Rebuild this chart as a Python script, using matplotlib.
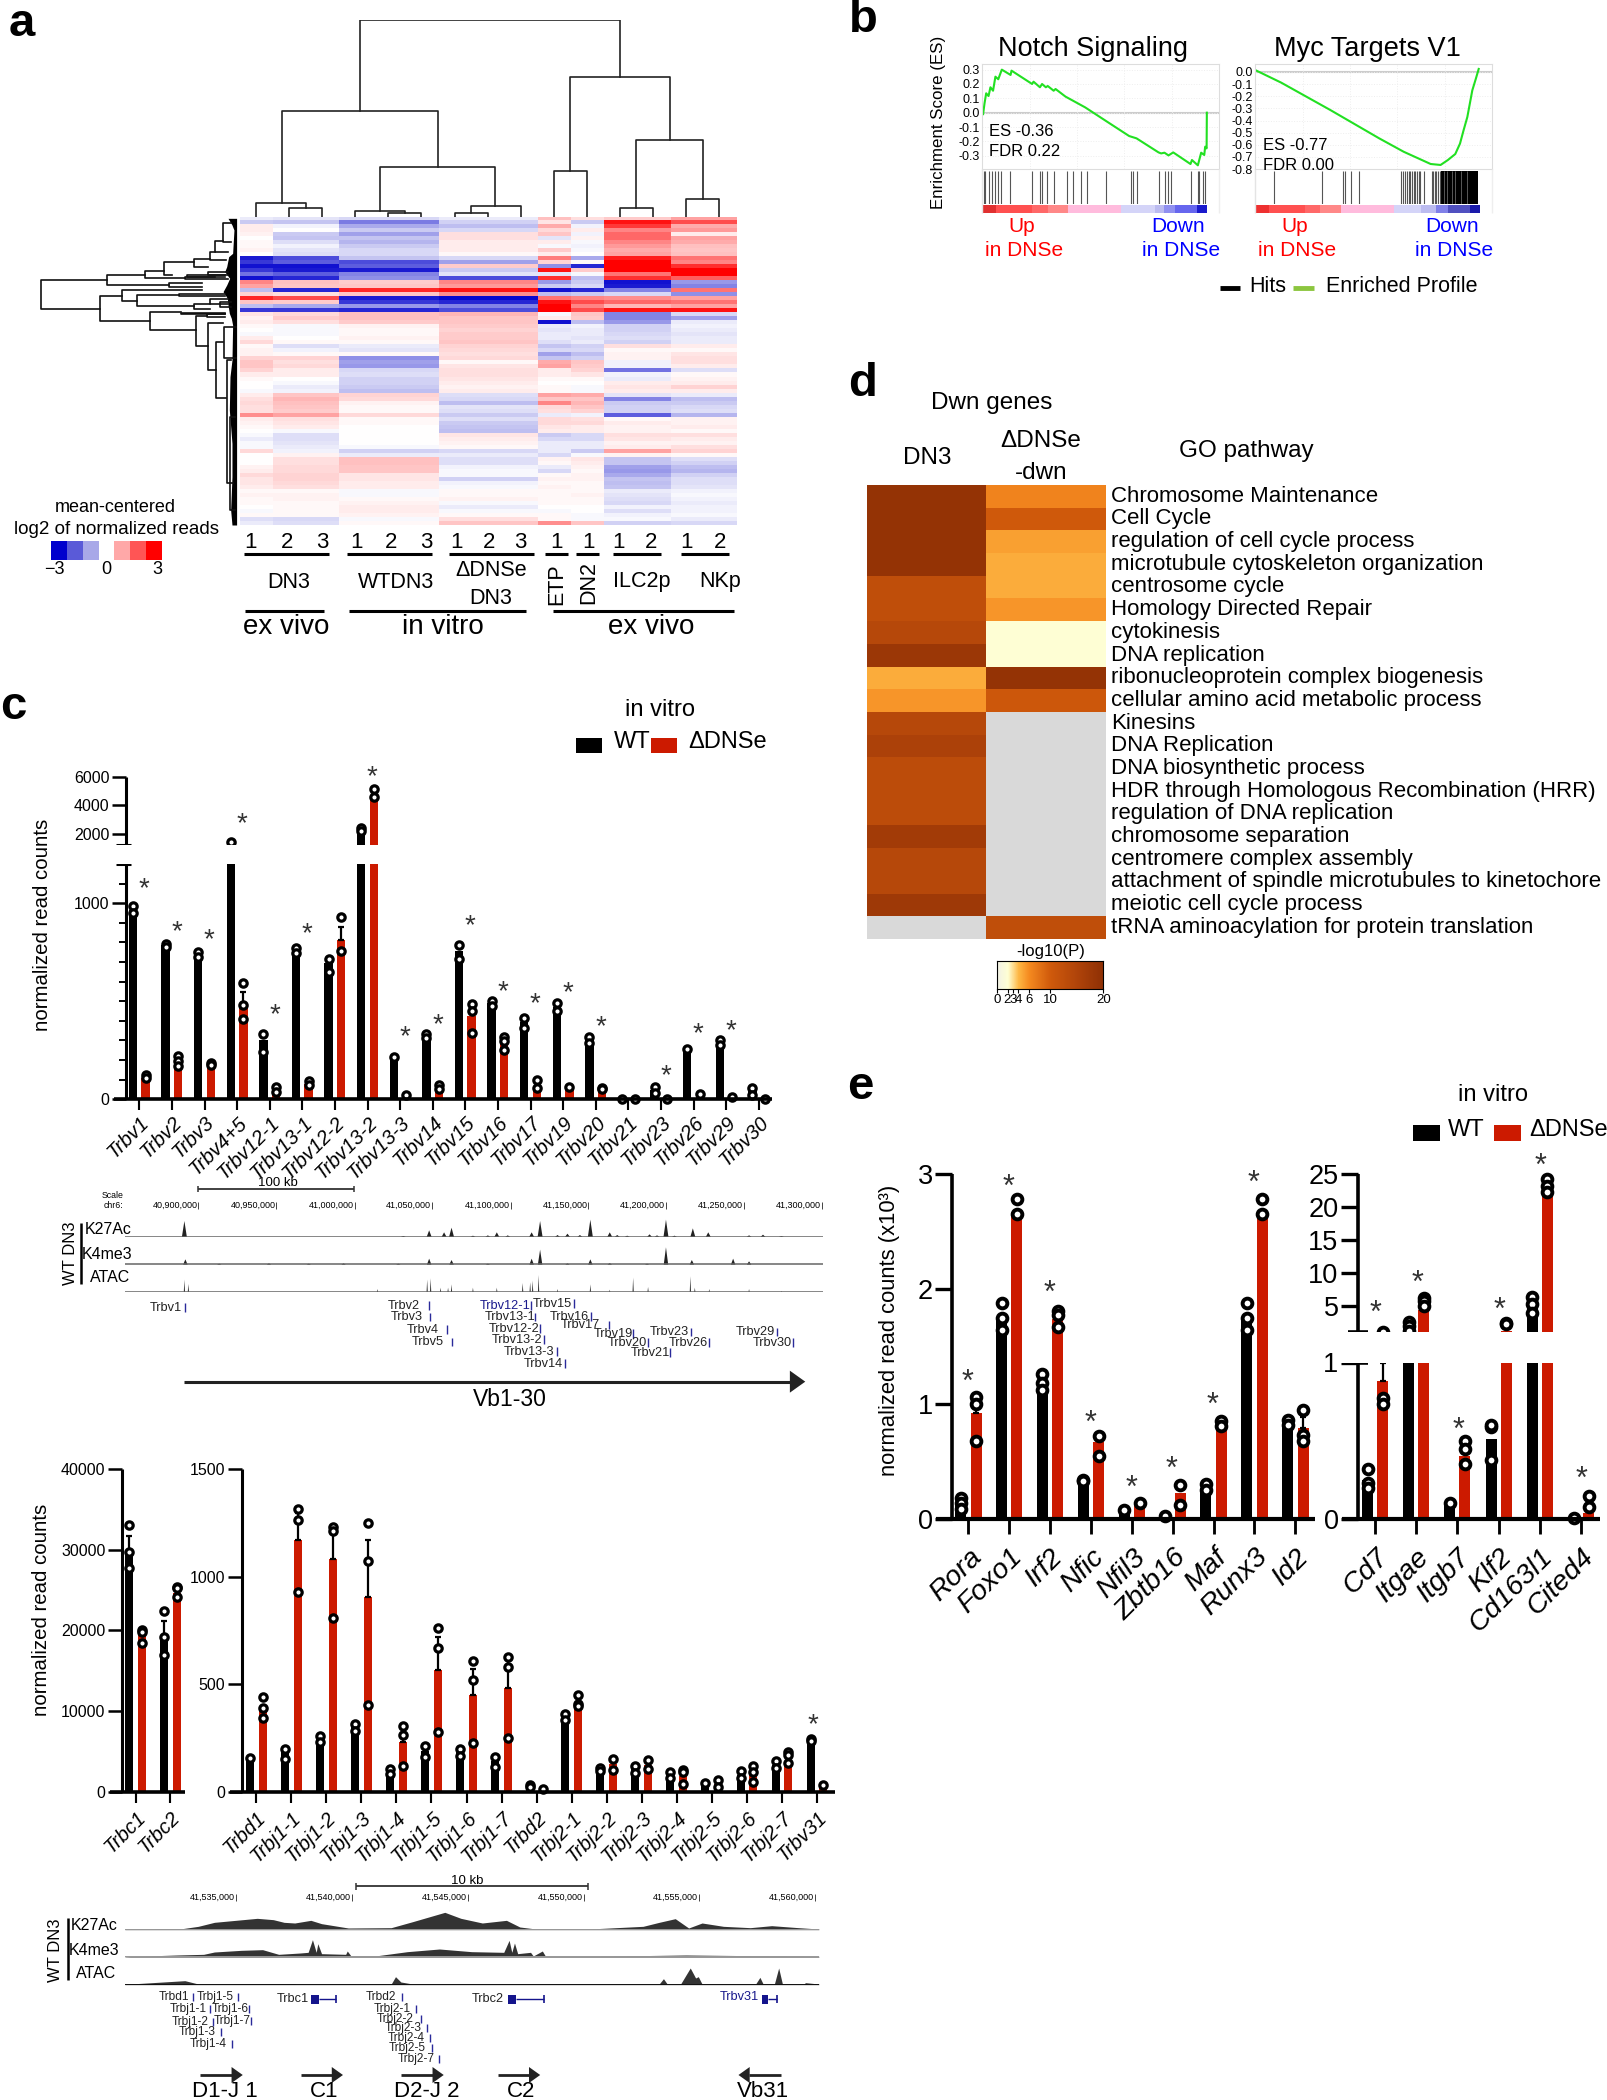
import matplotlib
matplotlib.use("Agg")
import matplotlib.pyplot as plt
import numpy as np
from matplotlib.colors import LinearSegmentedColormap, ListedColormap
from matplotlib.patches import Rectangle
from matplotlib.ticker import FixedLocator, NullFormatter
from matplotlib.transforms import ScaledTranslation

plt.rcParams["font.family"] = ["Liberation Sans", "DejaVu Sans"]

W, H = 1607, 2100
BLACK = "#000000"
RED = "#CC1A00"

# panel a
heat_groups = ["DN3", "WTDN3", "dDNSe", "ETP", "DN2", "ILC2p", "NKp"]
heat_repeat = [1, 2, 3, 3, 1, 1, 2, 2]
heat_rows = [
    [-.3, -.4, -.6, -.3, 1.0, .5, .8, 1.3], [-.8, -.9, -1.7, -.7, .4, -.8, 2.8, 2.2],
    [.3, -.2, -1.2, -1.0, 1.2, -.2, 2.4, 1.2], [.3, 0, -.8, -.6, .6, .3, 1.6, 1.4],
    [.2, -.8, -1.3, .5, .9, -.2, 1.9, .3], [0, -.9, -.9, .5, -.4, .2, 1.9, 1.3],
    [.1, -.5, -1.1, .3, .3, -.1, 1.6, 1.2], [.1, -.2, -.8, .3, -.1, -.2, 1.4, 1.0],
    [.2, -.4, -.6, .3, .8, -.1, 1.2, .9], [0, -.5, -.6, .1, .3, 0, 1.3, 1.0],
    [-2.7, -2.2, -.9, -.6, 1.7, -1.2, 2.7, 1.8], [-2.4, -2.0, -2.2, -1.3, .7, .1, 3, 1.6],
    [-2.8, -2.8, -2.0, .8, -1.5, -2.6, 3, 2.5], [-2.4, -2.7, -2.7, -.8, 2.8, .8, 3, 3],
    [-1.8, -2.0, -1.6, -.4, -.4, -.1, 1.8, 3], [-2.8, -2.6, -1.5, -2.2, 2.5, -1.0, 2.5, 2.0],
    [1.6, 1.0, .8, 1.6, -1.4, -.8, -2.8, -1.4], [1.3, .9, .9, 1.4, -.8, -.6, -2.7, -1.6],
    [-1.0, -2.6, 2.6, 2.8, -2.8, -2.6, -1.6, 1.8], [.7, .5, .9, 1.5, -1, -.8, -.6, -1.5],
    [2.6, 2.2, -2.7, -2.9, 1.8, 1.6, 1.5, 1.3], [.9, .8, -2.4, -2.6, 2.8, 2.2, 1.9, 1.8],
    [-1, -1.2, -1.4, -1.6, 3, 1.6, 1.1, 1.3], [-2.4, -2.4, -2.6, -2.2, 3, 2.2, 2.8, 2.8],
    [.4, .6, 1, 1.1, -.1, .9, -1.6, -.6], [.2, .8, 1, .9, .3, .8, -1.6, -1.3],
    [.3, .5, .8, .9, -2.8, -1, -1.4, -.3], [.1, -.1, .2, .8, -.3, -.2, -.7, -.2],
    [0, -.1, .1, .7, -.4, -.3, -.7, -.3], [-.1, -.1, .1, .8, -.3, -.3, -.6, -.4],
    [.3, 0, .2, .8, -.3, -.4, -.5, -.3], [.6, .1, .1, .9, -.5, -.3, -.7, -.3],
    [.1, -.5, -.3, .7, -.9, -.7, .5, .3], [.2, -.2, -.4, .6, -.6, -.6, .1, .1],
    [.2, .1, .1, .5, -1.3, -1.0, .2, .4], [.7, .7, -1.5, .6, -.9, -.7, .2, .5],
    [.9, .5, -1.3, .1, 1.2, .9, -.2, .5], [.9, .6, -1.4, .4, 1.3, .8, -.2, .3],
    [.7, .3, -.6, .5, .3, .7, -1.8, -.5], [.3, .3, -.5, .5, .3, .4, -.2, .1],
    [.1, 0, -.7, .4, .1, .1, -.3, .2], [0, -.1, -.7, .3, 0, 0, .3, .3],
    [0, -.3, -.8, .2, .1, -.1, .4, .7], [-.1, -.2, -1, .3, .1, -.1, .3, .3],
    [.3, .9, .7, -.5, 1.3, 1.2, -.4, -.3], [.5, 1.1, .6, -.6, .9, .9, -1.6, -1.0],
    [.6, 1.0, .2, -1.0, 1.6, 1.1, -.8, -.8], [.5, .9, .1, -.4, .6, .9, -.7, -.6],
    [.5, .8, .1, -.5, .5, .7, -.7, -.5], [1.5, 1.3, .6, -.8, -.3, -.2, -2.0, -1.1],
    [.3, .5, .1, -.5, .6, .5, .1, .2], [.2, .4, .1, -.8, .6, .6, .3, .2],
    [.1, .3, 0, -.9, .4, .3, .2, .3], [0, -.1, 0, -1.0, .3, .3, .2, .1],
    [-.1, -.5, 0, .4, -.8, -.6, .5, .5], [-.3, -.5, 0, .3, -.6, -.6, .4, .3],
    [-.1, -.4, 0, .2, -.3, -.3, .2, .2], [-.1, -.3, -.1, .1, -.3, -.3, .3, .5],
    [.6, -.2, -.7, -.6, -.3, -.8, 1.3, .7], [0, .2, -.3, -.3, -.6, -.1, .2, .1],
    [0, .5, 1.0, -.5, .2, .4, -.9, -.5], [0, .5, 1.0, -.5, .1, .3, -.9, -.7],
    [.2, .6, .9, -.2, -.3, .2, -1.3, -1.0], [.3, .6, .9, -.1, -.6, .1, -1.4, -1.1],
    [.6, .7, .4, -.1, .1, .2, -1.2, -.7], [.4, .7, .4, -.7, .2, .2, -.9, -.5],
    [.4, .6, .3, -.2, .1, .1, -1.0, -.5], [.3, .5, .3, -.1, .2, .1, -.9, -.4],
    [.1, .1, -.1, .1, .1, .1, -.3, -.2], [.2, .2, -.1, .1, .1, .2, -.4, -.1],
    [.1, .2, .1, .2, .1, .1, -.5, -.2], [.1, .1, .2, -.1, .1, .1, -.6, -.3],
    [0, .1, .3, -.3, 0, 0, -.2, -.2], [-.1, .1, .3, -.1, -.1, 0, -.5, -.2],
    [.1, .1, .2, .1, .1, -.1, -.2, -.1], [-.5, -.6, -.1, .5, .1, -.1, -.1, -.3],
    [-.3, -.5, .1, .9, 1.5, .9, -.7, -.6],
]
# left x, right x, height, left child height, right child height
col_merges = [
    (1.5, 2.5, .048, 0, 0), (.5, 2.0, .07, 0, .048), (4.5, 5.5, .02, 0, 0), (3.5, 5.0, .029, 0, .02),
    (6.5, 7.5, .02, 0, 0), (7.0, 8.5, .057, .02, 0), (9.5, 10.5, .231, 0, 0), (11.5, 12.5, .044, 0, 0),
    (13.5, 14.5, .09, 0, 0), (12.0, 14.0, .389, .044, .09), (10.0, 13.0, .712, .231, .389),
    (4.26, 7.72, .253, .029, .057), (1.28, 6.0, .538, .07, .253), (3.63, 11.5, 1.0, .538, .712),
]
# stem x, top y, bottom y, top child x, bottom child x
row_merges = [
    (33, 210, 297, 232, 212), (232, 195, 225, 348, 420), (348, 182, 205, 407, 470), (407, 157, 195, 498, 430),
    (498, 147, 172, 545, 540), (545, 125, 150, 562, 595), (562, 92, 125, 585, 600), (585, 40, 95, 610, 610),
    (420, 218, 232, 520, 520), (212, 257, 332, 280, 364), (280, 241, 272, 520, 323), (323, 255, 288, 450, 498),
    (498, 282, 298, 545, 545), (364, 305, 360, 458, 502), (502, 318, 408, 535, 538), (538, 338, 480, 585, 565),
    (565, 397, 563, 585, 595), (587, 352, 443, 625, 625), (596, 450, 820, 610, 615), (606, 620, 900, 620, 620),
    (470, 200, 208, 560, 600), (540, 185, 195, 600, 600), (475, 196, 202, 590, 590), (450, 252, 258, 590, 590),
    (545, 268, 282, 600, 600), (575, 275, 292, 610, 610), (458, 308, 312, 590, 590), (535, 312, 322, 590, 590),
]
row_dense_y = [25, 45, 60, 130, 140, 170, 185, 205, 225, 245, 265, 285, 310, 325, 345, 450, 500, 600, 700, 800, 900, 945]
row_dense_x = [600, 612, 618, 614, 602, 596, 590, 605, 596, 585, 598, 600, 604, 610, 614, 612, 606, 604, 612, 612, 608, 612]
heat_scale_colors = ["#0000CD", "#5A5AD8", "#A8A8E8", "#FFFFFF", "#FFA8A8", "#FF5555", "#FF0000"]

# panel b
notch_rank = [.4, 1, 1.7, 2.7, 3.5, 4.6, 5.6, 6.8, 8.3, 9.9, 12, 12.4, 21.1, 21.7, 24.4, 25.3, 26.9, 27.7, 30.2, 31, 35.2,
              43.5, 53.8, 62.1, 65.2, 74.5, 75.6, 77, 78.7, 80.7, 88, 88.6, 91.1, 92.5, 93.8, 94.2, 94.8, 94.9]
notch_es = [-.01, .065, .135, .116, .177, .153, .251, .233, .3, .284, .263, .293, .2, .216, .177, .2, .177, .186, .153, .165,
            .112, .037, -.074, -.163, -.179, -.277, -.284, -.279, -.298, -.277, -.358, -.33, -.367, -.279, -.295, -.237, -.249, 0]
notch_hits = [.6, 1.4, 2.7, 4.1, 5.4, 6.6, 7.9, 11.8, 21.1, 24.4, 25.3, 27.5, 30.4, 35.8, 38.5, 41.9, 44.2, 52.4, 63, 63.6,
              65.2, 74.7, 77.3, 78.6, 79.8, 88.1, 91.2, 91.6, 93.2, 94.2]
notch_strip = [0, 5.8, 21.1, 27.9, 36.4, 58.6, 72.9, 76.6, 81.4, 90.9, 94.8]
myc_rank = [0, 11, 31.7, 52.4, 62.7, 74.1, 78.3, 81.4, 84.5, 86.5, 88, 89.6, 91.7, 93.2, 94.4]
myc_es = [.016, -.088, -.313, -.547, -.657, -.758, -.766, -.725, -.676, -.59, -.481, -.371, -.151, -.055, .025]
myc_hits = [7.9, 28.2, 36.9, 37.9, 40.4, 43.7, 61.7, 62.5, 63.4, 64.2, 64.8, 65.4, 66.3, 67.1, 67.7, 68.5, 69.2, 69.8, 71.4,
            74.5, 75.2, 75.8, 76.4, 77.2, 78.1]
myc_dense = (78.6, 94.3)
myc_gaps = [79.6, 80.8, 83.0, 84.3, 86.9, 89.5]
myc_strip = [0, 5.8, 20.9, 27.5, 36.2, 58.8, 70, 76.2, 81.4, 90.7, 94.8]
notch_strip_colors = ["#E03030", "#FF5050", "#FF6868", "#FF8888", "#FFBBDD", "#D4D4F8", "#BBBBF0", "#9090F0", "#6666EE", "#1A1ACC"]
myc_strip_colors = ["#EE3030", "#FF5050", "#FF6868", "#FF8888", "#FFBBDD", "#D4D4F8", "#BBBBF0", "#8080E8", "#5050C0", "#1A1AAA"]

# panel c
trbv_names = ["Trbv1", "Trbv2", "Trbv3", "Trbv4+5", "Trbv12-1", "Trbv13-1", "Trbv12-2", "Trbv13-2", "Trbv13-3", "Trbv14",
              "Trbv15", "Trbv16", "Trbv17", "Trbv19", "Trbv20", "Trbv21", "Trbv23", "Trbv26", "Trbv29", "Trbv30"]
trbv_wt = [966, 785, 738, 1460, 300, 760, 694, 2300, 218, 325, 758, 490, 395, 470, 300, 3, 45, 258, 295, 40]
trbv_ko = [110, 190, 175, 490, 45, 80, 813, 4700, 20, 55, 425, 286, 70, 60, 55, 3, 2, 25, 14, 3]
trbv_wt_pts = [[985, 950], [792, 775], [750, 728], [1465], [332, 240], [770, 748], [718, 648], [2395, 2230], [218], [332, 315],
               [787, 714], [502, 476], [413, 364], [493, 452], [320, 286], [2], [61, 31], [258], [304, 279], [56, 24]]
trbv_ko_pts = [[124, 107], [223, 197, 170], [187, 175], [592, 481, 410], [65, 36], [95, 75], [930, 757], [5117, 4558], [22], [75, 53],
               [486, 449, 340], [318, 298, 253], [99, 58], [63], [58, 53], [2], [2], [27], [14], [3]]
trbv_ko_err = [0, 0, 0, 549, 0, 0, 877, 0, 0, 0, 0, 0, 0, 0, 0, 0, 0, 0, 0, 0]
trbv_star = [1110, 889, 852, 3210, 469, 881, None, 6465, 354, 417, 923, 585, 524, 580, 405, None, 158, 371, 388, None]

trbc_names = ["Trbc1", "Trbc2"]
trbc_wt = [30000, 19230]
trbc_ko = [19440, 24600]
trbc_wt_pts = [[33130, 29780, 27800], [22420, 19150, 16960]]
trbc_ko_pts = [[20020, 19855, 18490], [25360, 25270, 24200]]
trbc_wt_err = [31770, 21180]
trbc_ko_err = [0, 0]

trbj_names = ["Trbd1", "Trbj1-1", "Trbj1-2", "Trbj1-3", "Trbj1-4", "Trbj1-5", "Trbj1-6", "Trbj1-7", "Trbd2", "Trbj2-1",
              "Trbj2-2", "Trbj2-3", "Trbj2-4", "Trbj2-5", "Trbj2-6", "Trbj2-7", "Trbv31"]
trbj_wt = [150, 185, 245, 300, 90, 190, 185, 145, 28, 345, 105, 105, 80, 40, 80, 125, 240]
trbj_ko = [390, 1171, 1083, 907, 230, 566, 448, 482, 10, 418, 130, 125, 75, 35, 85, 130, 25]
trbj_wt_pts = [[155], [200, 154], [257, 233], [316, 282], [105, 81], [212, 160], [199, 168], [163, 116], [31, 20], [361, 335],
               [112, 98], [119, 87], [90, 64], [42], [95, 64], [143, 112], [245, 236]]
trbj_ko_pts = [[440, 391, 341], [1315, 1263, 929], [1230, 1213, 807], [1249, 1073, 402], [307, 264, 118], [762, 667, 276],
               [608, 520, 225], [627, 579, 248], [11], [448, 406, 400], [150, 101], [149, 107], [101, 92, 34], [53, 22],
               [119, 92, 47], [186, 169, 135], [30]]
trbj_ko_err = [0, 1295, 1230, 1171, 307, 721, 569, 622, 0, 0, 0, 0, 0, 0, 0, 0, 0]
trbj_wt_err = [0] * 17
trbj_star = [None] * 16 + [344]

# tracks of panel c, in browser position
vb_k27_pos = [250, 690, 742, 772, 787, 830, 860, 878, 900, 948, 965, 1000, 1020, 1045, 1066, 1105, 1120, 1140, 1185, 1200, 1218, 1235, 1272, 1303, 1385, 1413, 1450]
vb_k27_h = [48, 3, 20, 14, 28, 4, 5, 14, 5, 14, 48, 6, 10, 6, 52, 14, 6, 4, 8, 5, 52, 4, 26, 14, 5, 7, 3]
vb_k4_pos = [252, 320, 420, 500, 570, 680, 742, 787, 860, 948, 965, 1020, 1066, 1105, 1180, 1218, 1270, 1353, 1385]
vb_k4_h = [16, 3, 4, 3, 4, 3, 18, 14, 3, 18, 45, 4, 16, 5, 3, 52, 14, 18, 10]
vb_atac_pos = [250, 258, 638, 738, 745, 765, 780, 787, 830, 878, 930, 945, 950, 962, 1000, 1066, 1105, 1152, 1182, 1267, 1276, 1305, 1385, 1450]
vb_atac_h = [38, 25, 10, 38, 42, 14, 14, 24, 14, 14, 28, 30, 35, 52, 10, 24, 8, 44, 16, 48, 14, 10, 10, 4]
vb_coords = ["40,900,000", "40,950,000", "41,000,000", "41,050,000", "41,100,000", "41,150,000", "41,200,000", "41,250,000", "41,300,000"]
vb_genes = [
    ("Trbv1", 212, 413, 251), ("Trbv2", 692, 407, 741), ("Trbv3", 696, 442, 743), ("Trbv4", 730, 479, 778), ("Trbv5", 740, 517, 788),
    ("Trbv12-1", 894, 407, 947), ("Trbv13-1", 905, 442, 955), ("Trbv12-2", 912, 477, 964), ("Trbv13-2", 919, 510, 972),
    ("Trbv13-3", 943, 546, 999), ("Trbv14", 972, 581, 1015), ("Trbv15", 990, 401, 1033), ("Trbv16", 1024, 440, 1067),
    ("Trbv17", 1046, 466, 1103), ("Trbv19", 1112, 491, 1151), ("Trbv20", 1140, 518, 1182), ("Trbv21", 1187, 549, 1227),
    ("Trbv23", 1224, 487, 1268), ("Trbv26", 1263, 518, 1305), ("Trbv29", 1398, 487, 1442), ("Trbv30", 1431, 518, 1474),
]

# tracks near the constant regions
dj_k27_x = [233, 340, 370, 400, 440, 480, 510, 530, 550, 580, 600, 650, 730, 770, 800, 830, 860, 900, 945, 970, 1000, 1100, 1200, 1230, 1260, 1285, 1310, 1350, 1400, 1440, 1490, 1528]
dj_k27_h = [2, 3, 10, 22, 28, 34, 30, 22, 20, 28, 18, 5, 6, 24, 38, 52, 34, 20, 28, 8, 2, 2, 10, 22, 33, 5, 20, 10, 6, 12, 6, 2]
dj_k4_x = [233, 330, 380, 400, 450, 490, 520, 560, 575, 583, 590, 593, 600, 645, 648, 655, 700, 760, 820, 880, 940, 950, 955, 960, 966, 990, 995, 1012, 1018, 1100, 1280, 1528]
dj_k4_h = [1, 6, 8, 15, 20, 22, 8, 12, 14, 52, 14, 40, 10, 8, 18, 3, 3, 16, 24, 16, 14, 50, 14, 42, 10, 14, 3, 18, 2, 2, 6, 2]
dj_atac_x = [233, 345, 370, 550, 552, 730, 738, 748, 770, 850, 1230, 1238, 1245, 1270, 1288, 1298, 1303, 1310, 1410, 1418, 1424, 1445, 1453, 1460, 1500, 1503, 1528]
dj_atac_h = [1, 12, 2, 3, 1, 2, 24, 8, 2, 2, 2, 18, 2, 2, 50, 20, 24, 2, 2, 22, 2, 2, 50, 2, 2, 6, 2]
dj_coords = ["41,535,000", "41,540,000", "41,545,000", "41,550,000", "41,555,000", "41,560,000"]
dj_genes = [
    ("Trbd1", 324, 412, 361), ("Trbj1-5", 402, 412, 444), ("Trbj1-1", 351, 447, 391), ("Trbj1-6", 430, 446, 465),
    ("Trbj1-2", 354, 485, 397), ("Trbj1-7", 434, 482, 468), ("Trbj1-3", 367, 517, 412), ("Trbj1-4", 389, 552, 432),
    ("Trbd2", 710, 412, 750), ("Trbj2-1", 731, 447, 776), ("Trbj2-2", 738, 477, 785), ("Trbj2-3", 753, 505, 796),
    ("Trbj2-4", 758, 534, 803), ("Trbj2-5", 760, 564, 806), ("Trbj2-7", 777, 598, 820),
]

# panel d
go_terms = ["Chromosome Maintenance", "Cell Cycle", "regulation of cell cycle process", "microtubule cytoskeleton organization",
            "centrosome cycle", "Homology Directed Repair", "cytokinesis", "DNA replication", "ribonucleoprotein complex biogenesis",
            "cellular amino acid metabolic process", "Kinesins", "DNA Replication", "DNA biosynthetic process",
            "HDR through Homologous Recombination (HRR)", "regulation of DNA replication", "chromosome separation",
            "centromere complex assembly", "attachment of spindle microtubules to kinetochore", "meiotic cell cycle process",
            "tRNA aminoacylation for protein translation"]
go_dn3 = [19, 19, 19, 19, 12.5, 12.5, 14, 18, 4.5, 5.5, 14, 15.5, 13, 13, 13, 17, 14, 14, 17.5, np.nan]
go_dnse = [6.5, 10, 5, 4.5, 4.5, 5.5, 2.0, 2.0, 19, 10.5] + [np.nan] * 9 + [12.5]
go_ticks = [0, 2, 3, 4, 6, 10, 20]

# panel e
tf_names = ["Rora", "Foxo1", "Irf2", "Nfic", "Nfil3", "Zbtb16", "Maf", "Runx3", "Id2"]
tf_wt = [.13, 1.75, 1.18, .33, .07, .02, .27, 1.75, .83]
tf_ko = [.925, 2.67, 1.74, .67, .12, .23, .83, 2.67, .79]
tf_wt_pts = [[.183, .14, .084], [1.874, 1.75, 1.64], [1.257, 1.18, 1.117], [.34, .33], [.078], [.03], [.307, .25], [1.874, 1.75, 1.64], [.86, .82]]
tf_ko_pts = [[1.06, 1.0, .68], [2.78, 2.65], [1.81, 1.77, 1.666], [.72, .55], [.14], [.295, .118], [.853, .807], [2.78, 2.65], [.943, .73, .68]]
tf_ko_err = [1.03, 0, 0, 0, 0, 0, 0, 0, .885]
tf_star = [1.25, 2.95, 2.03, .90, .33, .50, 1.05, 2.98, None]
mk_names = ["Cd7", "Itgae", "Itgb7", "Klf2", "Cd163l1", "Cited4"]
mk_wt = [.25, 2.0, .1, .51, 5.2, .01]
mk_ko = [.88, 4.4, .4, 1.1, 23, .04]
mk_wt_pts = [[.32, .233, .2], [2.47, 1.92, 1.1], [.1], [.59, .6, .38], [6.27, 5.18, 3.93], [.007]]
mk_ko_pts = [[1.05, .776, .737], [6.1, 5.7, 4.9], [.498, .445, .354], [2.3, 2.2], [24.2, 23.1, 22.2], [.144, .075]]
mk_ko_err = [1.0, 0, 0, 0, 0, 0]
mk_star = [5.0, 9.6, .616, 5.46, 27.2, .30]


def ax_px(x0, y0, x1, y1, **kw):
    return fig.add_axes([x0 / W, 1 - y1 / H, (x1 - x0) / W, (y1 - y0) / H], **kw)


def T(x, y, s, size=14, **kw):
    kw.setdefault("ha", "center")
    kw.setdefault("va", "center")
    return ov.text(x, y, s, fontsize=size, **kw)


def L(xs, ys, lw=2.0, color="black", **kw):
    ov.plot(xs, ys, color=color, lw=lw, solid_capstyle="butt", **kw)


def arrow(x0, x1, y, lw=2.2, head=11):
    d = 1 if x1 > x0 else -1
    L([x0, x1 - d * head * 1.3], [y, y], lw=lw, color="#222222")
    ov.fill([x1, x1 - d * head * 1.4, x1 - d * head * 1.4], [y, y - head, y + head], color="#222222", lw=0)


def bar_panel(box, c0, step, off, width, names, wt, ko, wt_pts, ko_pts, ko_err, wt_err, stars, ylim, yticks, ticklen,
              ylabelsize, xlabelsize, scale=None, minor=None, star_off=0.15, ms=5.3, mew=2.3, xlen=8, xpad=4, lab_dx=0,
              tick_w=1.8, star_size=20):
    ax = ax_px(*box, zorder=2)
    ax.patch.set_alpha(0)
    x = np.arange(len(names))
    if scale is not None:
        ax.set_yscale("function", functions=scale)
    ax.bar(x - off / step, wt, width / step, color=BLACK)
    ax.bar(x + off / step, ko, width / step, color=RED)
    for i in x:
        if wt_err[i]:
            ax.errorbar(i - off / step, wt[i], yerr=[[0], [wt_err[i] - wt[i]]], color="black", capsize=2.2, lw=1.6, capthick=1.6)
        if ko_err[i]:
            ax.errorbar(i + off / step, ko[i], yerr=[[0], [ko_err[i] - ko[i]]], color="black", capsize=2.2, lw=1.6, capthick=1.6)
        for sign, pts in ((-1, wt_pts[i]), (1, ko_pts[i])):
            ax.plot([i + sign * off / step] * len(pts), pts, "o", ms=ms, mfc="white", mec="black", mew=mew, clip_on=False, zorder=6)
        if stars[i] is not None:
            ax.annotate("*", (i + star_off, stars[i]), xytext=(0, -star_size * 0.27), textcoords="offset points",
                        fontsize=star_size, ha="center", va="center", color="#333333", zorder=7)
    ax.set_xlim((box[0] - c0) / step, (box[2] - c0) / step)
    ax.set_ylim(*ylim)
    ax.set_xticks(x)
    ax.set_xticklabels(names, rotation=45, ha="right", rotation_mode="anchor", style="italic", fontsize=xlabelsize)
    if lab_dx:
        shift = ScaledTranslation(lab_dx / 100, 0, fig.dpi_scale_trans)
        for lab in ax.get_xticklabels():
            lab.set_transform(lab.get_transform() + shift)
    ax.yaxis.set_major_locator(FixedLocator(yticks))
    ax.set_yticklabels([str(t) for t in yticks], fontsize=ylabelsize)
    ax.yaxis.set_minor_formatter(NullFormatter())
    if minor is not None:
        ax.yaxis.set_minor_locator(FixedLocator(minor))
        ax.tick_params(axis="y", which="minor", length=5, width=1.4)
    else:
        ax.yaxis.set_minor_locator(FixedLocator([]))
    ax.tick_params(axis="y", which="major", length=ticklen, width=tick_w, pad=2)
    ax.tick_params(axis="x", length=xlen, width=tick_w * 0.85, pad=xpad)
    for s in ax.spines.values():
        s.set_visible(False)
    return ax


def es_panel(box_x, rank, es, hits, strip, strip_colors, ylim, yticks, ytick_fmt, dense=None, gaps=None):
    x0, x1 = box_x
    ax = ax_px(x0, 193 / 3, x1, 508 / 3)
    ax.plot(rank, es, color="#22E022", lw=1.5)
    ax.axhline(0, color="#CCCCCC", lw=1.5, zorder=0)
    ax.set_xlim(0, 100)
    ax.set_ylim(*ylim)
    ax.set_xticks([20, 40, 60, 80])
    ax.set_xticklabels([])
    ax.set_yticks(yticks)
    ax.set_yticklabels(ytick_fmt, fontsize=9)
    ax.tick_params(length=0, pad=2)
    ax.grid(color="#EEEEEE", ls=":", lw=0.7)
    for s in ax.spines.values():
        s.set_color("#DDDDDD")
    a2 = ax_px(x0, 512 / 3, x1, 612 / 3)
    a2.vlines(hits, 0, 1, color="#555555", lw=0.8)
    if dense is not None:
        a2.axvspan(dense[0], dense[1], color="black", lw=0)
        a2.vlines(gaps, 0, 1, color="#999999", lw=0.4)
    a2.set_xlim(0, 100)
    a2.set_ylim(0, 1)
    a2.axis("off")
    a3 = ax_px(x0, 615 / 3, x1, 640 / 3)
    a3.barh(0, np.diff(strip), left=strip[:-1], height=1, color=strip_colors)
    a3.set_xlim(0, 100)
    a3.set_ylim(-.5, .5)
    a3.axis("off")
    L([x0, x0], [508 / 3, 640 / 3], lw=1, color="#E4E4E4")
    L([x1, x1], [508 / 3, 640 / 3], lw=1, color="#EEEEEE")


def peaks(box, xlim, pos, height, half, color="#222222"):
    ax = ax_px(*box)
    for p, h in zip(pos, height):
        ax.fill([p - half, p, p + half], [0, h, 0], color=color, lw=0)
    ax.axhline(0.5, color="#666666", lw=1.1)
    ax.set_xlim(*xlim)
    ax.set_ylim(0, 55)
    ax.axis("off")


def signal(box, xlim, pos, height, base_color="#999999"):
    ax = ax_px(*box)
    ax.fill_between(pos, 0, height, color="#333333", lw=0)
    ax.axhline(0.5, color=base_color, lw=1.4)
    ax.set_xlim(*xlim)
    ax.set_ylim(0, 55)
    ax.axis("off")


fig = plt.figure(figsize=(W / 100, H / 100), dpi=100)
ov = fig.add_axes([0, 0, 1, 1], zorder=10)
ov.set_xlim(0, W)
ov.set_ylim(H, 0)
ov.axis("off")
ov.patch.set_alpha(0)

for s, x, y in [("a", 22, 24), ("b", 863, 20), ("c", 13, 707), ("d", 863, 384), ("e", 860, 1087)]:
    T(x, y, s, 34, fontweight="bold")

# a: heatmap and dendrograms
heat = np.repeat(np.array(heat_rows), heat_repeat, axis=1)
hm_cmap = LinearSegmentedColormap.from_list(
    "bwr2", [(0, "#0000CD"), (1 / 3, "#BEBEF0"), (.5, "#FFFFFF"), (2 / 3, "#FFC0C0"), (1, "#FF0000")])
ax_h = ax_px(239.5, 217, 735.7, 525)
ax_h.imshow(heat, cmap=hm_cmap, vmin=-3, vmax=3, aspect="auto", interpolation="nearest")
ax_h.axis("off")

ax_t = ax_px(239.5, 20, 735.7, 217)
for xl, xr, h, hl, hr in col_merges:
    ax_t.plot([xl, xl, xr, xr], [hl, h, h, hr], color="#222222", lw=1.2)
ax_t.set_xlim(0, 15)
ax_t.set_ylim(0, 1)
ax_t.axis("off")

ax_s = ax_px(30, 210, 30 + 626 / 3.03, 530)
for xm, yt, yb, xa, xb in row_merges:
    ax_s.plot([xa, xm, xm, xb], [yt, yt, yb, yb], color="#111111", lw=1.2)
ax_s.fill_betweenx(row_dense_y, row_dense_x, 626, color="black", lw=0)
ax_s.set_xlim(0, 626)
ax_s.set_ylim(960, 0)
ax_s.axis("off")

for labels, xs, (a, b) in [
    ("123", (251, 287, 322), (244, 329)), ("123", (356, 391, 426), (347, 432)), ("123", (456, 489, 520), (449, 534)),
    ("1", (556,), (545, 568)), ("1", (588,), (576, 599)), ("12", (619, 651), (613, 661)), ("12", (686, 720), (681, 729)),
]:
    for c, x in zip(labels, xs):
        T(x, 542, c, 16)
    L([a, b], [554, 554], lw=2.2)
for (a, b) in [(245, 324), (349, 526), (553, 734)]:
    L([a, b], [611, 611], lw=2.2)
T(289, 582, "DN3", 15.5)
T(396, 582, "WTDN3", 15.5)
T(491, 570, "\u0394DNSe", 15.5)
T(491, 598, "DN3", 15.5)
T(557, 584, "ETP", 15.5, rotation=90)
T(589, 583, "DN2", 15.5, rotation=90)
T(642, 582, "ILC2p", 15.5)
T(720, 582, "NKp", 15.5)
T(286, 627, "ex vivo", 20)
T(443, 627, "in vitro", 20)
T(651, 627, "ex vivo", 20)
T(115, 507, "mean-centered", 13)
T(117, 530, "log2 of normalized reads", 13.5)
ax_c = ax_px(50.5, 541, 161, 560)
ax_c.imshow([list(range(7))], cmap=ListedColormap(heat_scale_colors), aspect="auto")
ax_c.axis("off")
T(54, 570, "\u22123", 13)
T(106, 570, "0", 13)
T(157, 570, "3", 13)

# b: enrichment plots
es_panel((840 + 290 / 2.04, 840 + 773 / 2.04), notch_rank, notch_es, notch_hits, notch_strip, notch_strip_colors,
         (-.395, .337), [-.3, -.2, -.1, 0, .1, .2, .3], ["-0.3", "-0.2", "-0.1", "0.0", "0.1", "0.2", "0.3"])
es_panel((840 + 847 / 2.04, 840 + 1330 / 2.04), myc_rank, myc_es, myc_hits, myc_strip, myc_strip_colors,
         (-.802, .063), [-.8, -.7, -.6, -.5, -.4, -.3, -.2, -.1, 0],
         ["-0.8", "-0.7", "-0.6", "-0.5", "-0.4", "-0.3", "-0.2", "-0.1", "0.0"], dense=myc_dense, gaps=myc_gaps)
bx = lambda x: 840 + x / 2.04
T(bx(517), 49, "Notch Signaling", 19.5)
T(bx(1075), 49, "Myc Targets V1", 19.5)
T(bx(201), 122, "Enrichment Score (ES)", 12.2, rotation=90)
T(bx(303), 131, "ES -0.36", 12, ha="left")
T(bx(303), 151, "FDR 0.22", 12, ha="left")
T(bx(862), 145, "ES -0.77", 12, ha="left")
T(bx(862), 165, "FDR 0.00", 12, ha="left")
for x1, x2, c, a in [(370, 376, "#FF0000", "Up"), (690, 696, "#0000FF", "Down"), (928, 933, "#FF0000", "Up"), (1248, 1253, "#0000FF", "Down")]:
    T(bx(x1), 226, a, 15, color=c)
    T(bx(x2), 251, "in DNSe", 15, color=c)
L([bx(775), bx(815)], [288, 288], lw=3.5)
L([bx(925), bx(967)], [288, 288], lw=3.5, color="#8CC63F")
T(bx(872), 286, "Hits", 15.5)
T(bx(1145), 286, "Enriched Profile", 15.5)

# c: Trbv bars
seg_c_v = [0, 1200, 1212, 6000, 7000]
seg_c_p = [0, 235.3, 254, 322.6, 337]
seg_c = (lambda v: np.interp(v, seg_c_v, seg_c_p), lambda p: np.interp(p, seg_c_p, seg_c_v))
bar_panel((126, 762.3, 772, 1099.3), 139.3, 32.6, 6.3, 8.4, trbv_names, trbv_wt, trbv_ko, trbv_wt_pts, trbv_ko_pts, trbv_ko_err,
          [0] * 20, trbv_star, (0, 7000), [0, 1000, 2000, 4000, 6000], 10, 11.5, 14.5, scale=seg_c,
          minor=[100, 200, 300, 400, 500, 600, 700, 800, 900, 1100], lab_dx=4, xpad=2)
ov.add_patch(Rectangle((110, 845.3), 665, 18.7, color="white", lw=0, zorder=3))
L([126, 126], [776.7, 845.3], lw=2.2)
L([126, 126], [864, 1099.3], lw=2.2)
L([114, 772], [1099.3, 1099.3], lw=2.6)
L([116, 131], [845.3, 845.3], lw=2.2)
L([116, 131], [864, 864], lw=2.2)
T(43, 925, "normalized read counts", 14.7, rotation=90)
T(660, 710, "in vitro", 17)
ov.add_patch(Rectangle((576, 738), 26, 15, color=BLACK, lw=0))
T(632, 742, "WT", 17)
ov.add_patch(Rectangle((651, 738), 26, 15, color=RED, lw=0))
T(728, 742, "\u0394DNSe", 17)

# c: Vb region browser tracks
cx = lambda x: 60 + x / 2.01
cy = lambda y: 1170 + y / 3
L([cx(278), cx(591)], [cy(57), cy(57)], lw=1.3, color="#333333")
L([cx(278), cx(278)], [cy(47), cy(67)], lw=1.1, color="#333333")
L([cx(591), cx(591)], [cy(47), cy(67)], lw=1.1, color="#333333")
T(cx(438), cy(38), "100 kb", 9.5)
T(cx(105), cy(76), "Scale", 6.3)
T(cx(108), cy(107), "chr6:", 6.3)
for lab, x in zip(vb_coords, [278, 435, 592, 748, 906, 1062, 1218, 1375, 1531]):
    T(cx(x - 2), cy(107), lab, 6.5, ha="right")
    L([cx(x), cx(x)], [cy(96), cy(116)], lw=0.7, color="#444444")
vb_lim = (130, 1533)
for base, pos, h, half in [(201, vb_k27_pos, vb_k27_h, 5), (284, vb_k4_pos, vb_k4_h, 4.5), (367, vb_atac_pos, vb_atac_h, 1.2)]:
    peaks((cx(130), cy(base - 55), cx(1533), cy(base)), vb_lim, pos, h, half)
L([cx(42), cx(42)], [cy(160), cy(343)], lw=1.8)
T(cx(22), cy(250), "WT DN3", 12, rotation=90)
T(cx(97), cy(180), "K27Ac", 11.5)
T(cx(95), cy(253), "K4me3", 11.5)
T(cx(100), cy(323), "ATAC", 11.5)
for name, x, y, tick in vb_genes:
    T(cx(x), cy(y), name, 9.2, color="#1A1A8C" if name == "Trbv12-1" else "#222222")
    L([cx(tick), cx(tick)], [cy(y - 14), cy(y + 12)], lw=1.0, color="#2A2A9A")
arrow(cx(250), cx(1498), cy(635))
T(cx(905), cy(688), "Vb1-30", 16.5)

# c: Trbc and Trbj bars
bar_panel((122, 1469.3, 185, 1791.7), 135.6, 34.8, 6.4, 8, trbc_names, trbc_wt, trbc_ko, trbc_wt_pts, trbc_ko_pts, trbc_ko_err,
          trbc_wt_err, [None, None], (0, 40000), [0, 10000, 20000, 30000, 40000], 10, 11.5, 14.5)
L([122, 122], [1469.3, 1791.7], lw=2.2)
L([110, 185], [1791.7, 1791.7], lw=2.6)
T(42, 1610, "normalized read counts", 14.7, rotation=90)
bar_panel((242, 1469.3, 835, 1791.7), 256.2, 35.05, 6.4, 8, trbj_names, trbj_wt, trbj_ko, trbj_wt_pts, trbj_ko_pts, trbj_ko_err,
          trbj_wt_err, trbj_star, (0, 1500), [0, 500, 1000, 1500], 10, 11.5, 14.5, star_off=-0.13)
L([242, 242], [1469.3, 1791.7], lw=2.2)
L([230, 835], [1791.7, 1791.7], lw=2.6)

# c: D-J region browser tracks
dx = lambda x: x / 1.866
dy = lambda y: 1860 + y / 3
L([dx(665), dx(1097)], [dy(78), dy(78)], lw=1.3, color="#333333")
L([dx(665), dx(665)], [dy(68), dy(90)], lw=1.1, color="#333333")
L([dx(1097), dx(1097)], [dy(68), dy(90)], lw=1.1, color="#333333")
T(dx(872), dy(62), "10 kb", 9.5)
for lab, x in zip(dj_coords, [441, 657, 873, 1089, 1305, 1521]):
    T(dx(x - 2), dy(113), lab, 6.5, ha="right")
    L([dx(x), dx(x)], [dy(102), dy(124)], lw=0.7, color="#444444")
dj_lim = (233, 1528)
for base, pos, h in [(209, dj_k27_x, dj_k27_h), (291, dj_k4_x, dj_k4_h)]:
    signal((dx(233), dy(base - 55), dx(1528), dy(base)), dj_lim, pos, h)
signal((dx(233), dy(374 - 55), dx(1528), dy(374)), dj_lim, dj_atac_x, dj_atac_h, base_color="#111111")
L([dx(127), dx(127)], [dy(175), dy(360)], lw=1.8)
T(dx(104), dy(270), "WT DN3", 12, rotation=90)
T(dx(175), dy(196), "K27Ac", 11.5)
T(dx(175), dy(271), "K4me3", 11.5)
T(dx(180), dy(340), "ATAC", 11.5)
for name, x, y, tick in dj_genes:
    T(dx(x), dy(y), name, 8.6, color="#222222")
    L([dx(tick), dx(tick)], [dy(y - 12), dy(y + 12)], lw=1.0, color="#2A2A9A")
for name, x, a, b, c in [("Trbc1", 547, 580, 595, 627), ("Trbc2", 911, 947, 962, 1016), ("Trbv31", 1380, 1421, 1434, 1449)]:
    T(dx(x), dy(417 if name != "Trbv31" else 412), name, 9.2, color="#1A1A8C" if name == "Trbv31" else "#222222")
    ov.add_patch(Rectangle((dx(a), dy(404)), dx(b) - dx(a), 9, color="#14148C", lw=0))
    L([dx(b), dx(c)], [dy(417), dy(417)], lw=1.0, color="#14148C")
    L([dx(c), dx(c)], [dy(406), dy(430)], lw=1.2, color="#14148C")
for a, b, name, x in [(373, 453, "D1-J 1", 420), (562, 640, "C1", 604), (749, 828, "D2-J 2", 797), (929, 1008, "C2", 972), (1457, 1378, "Vb31", 1423)]:
    arrow(dx(a), dx(b), dy(645), lw=2, head=8)
    T(dx(x), dy(695), name, 16)

# d: GO heatmap
go_cmap = LinearSegmentedColormap.from_list(
    "go", [(0, "#F2F2E6"), (.1, "#FFFFD4"), (.2, "#FEB744"), (.3, "#F58A20"), (.5, "#D05A0C"), (.75, "#B0440A"), (1, "#8E3005")])
go_cmap.set_bad("#D9D9D9")
go_x = lambda x: 840 + x / 2.04
go_y = lambda y: 371.5 + y / 2.46
ax_d = ax_px(go_x(55), go_y(279), go_x(542), go_y(1395))
ax_d.imshow(np.array([go_dn3, go_dnse]).T, cmap=go_cmap, vmin=0, vmax=20, aspect="auto", interpolation="nearest")
ax_d.axis("off")
row_h = (go_y(1395) - go_y(279)) / len(go_terms)
for i, term in enumerate(go_terms):
    T(go_x(553), go_y(279) + row_h * (i + .5), term, 16, ha="left")
T(go_x(310), go_y(78), "Dwn genes", 17.5)
T(go_x(178), go_y(212), "DN3", 17.5)
T(go_x(410), go_y(170), "\u0394DNSe", 17.5)
T(go_x(410), go_y(250), "-dwn", 17.5)
T(go_x(828), go_y(195), "GO pathway", 17.5)
T(go_x(430), go_y(1428), "-log10(P)", 12)
ax_g = ax_px(go_x(320), go_y(1450), go_x(537), go_y(1518))
ax_g.imshow(np.linspace(0, 20, 200)[None, :], cmap=go_cmap, vmin=0, vmax=20, aspect="auto", extent=(0, 20, 0, 1))
ax_g.set_yticks([])
ax_g.set_xticks(go_ticks)
ax_g.set_xticklabels(["0", "2", "3", "4", "6", "10", "20"], fontsize=9.5)
ax_g.tick_params(length=3, width=0.8, pad=1)
for s in ax_g.spines.values():
    s.set_linewidth(0.8)

# e: transcription factor bars
bar_panel((952.4, 1173.6, 1315, 1519), 968.4, 40.87, 7.7, 11, tf_names, tf_wt, tf_ko, tf_wt_pts, tf_ko_pts, tf_ko_err,
          [0] * 9, tf_star, (0, 3), [0, 1, 2, 3], 12, 19.5, 20.5, star_off=-0.02, ms=7, mew=2.8, xlen=11, xpad=7, lab_dx=4, tick_w=2.4, star_size=22)
L([952.4, 952.4], [1173.6, 1519], lw=2.6)
L([936, 1315], [1519, 1519], lw=3)
T(890, 1330, "normalized read counts (x10\u00b3)", 15.8, rotation=90)

seg_e_v = [0, 1, 1.001, 25, 30]
seg_e_p = [0, 156.5, 187, 345.4, 378.3]
seg_e = (lambda v: np.interp(v, seg_e_v, seg_e_p), lambda p: np.interp(p, seg_e_p, seg_e_v))
bar_panel((1358, 1140.7, 1600, 1519), 1375, 41.2, 7.5, 11, mk_names, mk_wt, mk_ko, mk_wt_pts, mk_ko_pts, mk_ko_err,
          [0] * 6, mk_star, (0, 30), [0, 1, 5, 10, 15, 20, 25], 12, 19.5, 20.5, scale=seg_e, star_off=0.02, ms=7, mew=2.8, xlen=11,
          xpad=7, lab_dx=4, tick_w=2.4, star_size=22)
ov.add_patch(Rectangle((1340, 1332), 262, 30.5, color="white", lw=0, zorder=3))
L([1358, 1358], [1173.6, 1332], lw=2.6)
L([1358, 1358], [1362.5, 1519], lw=2.6)
L([1342, 1600], [1519, 1519], lw=3)
L([1348, 1368], [1332, 1332], lw=2.6)
L([1348, 1368], [1362.5, 1362.5], lw=2.6)
T(1493, 1095, "in vitro", 17)
ov.add_patch(Rectangle((1413, 1125), 27, 16, color=BLACK, lw=0))
T(1466, 1130, "WT", 17)
ov.add_patch(Rectangle((1494, 1125), 27, 16, color=RED, lw=0))
T(1529, 1130, "\u0394DNSe", 17, ha="left")

fig.savefig("out.png", dpi=100)
